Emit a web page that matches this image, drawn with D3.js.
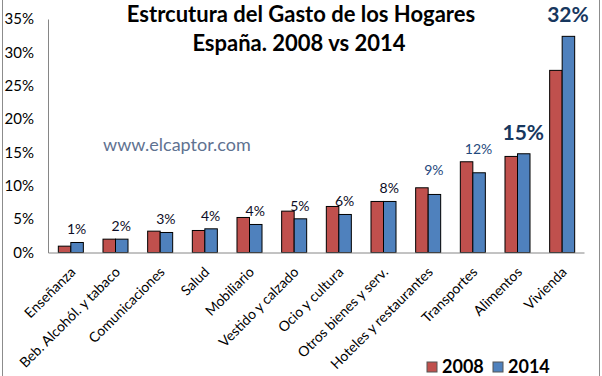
<!DOCTYPE html>
<html>
<head>
<meta charset="utf-8">
<script src="https://cdn.jsdelivr.net/npm/d3@7"></script>
<style>
  body { margin: 0; background: #fff; }
  text { font-family: "Lato", "Open Sans", sans-serif; }
</style>
</head>
<body>
<div id="chart"></div>
<script>
// Estructura del gasto de los hogares, 2008 vs 2014

const categories = ["Enseñanza", "Beb. Alcohól. y tabaco", "Comunicaciones", "Salud", "Mobiliario",
  "Vestido y calzado", "Ocio y cultura", "Otros bienes y serv.", "Hoteles y restaurantes",
  "Transportes", "Alimentos", "Vivienda"];
const values2008 = [0.95, 2.0, 3.2, 3.3, 5.25, 6.2, 6.9, 7.65, 9.7, 13.6, 14.4, 27.3];
const values2014 = [1.5, 2.0, 3.0, 3.55, 4.2, 5.05, 5.7, 7.65, 8.7, 11.95, 14.8, 32.4];
const labels2014 = ["1%", "2%", "3%", "4%", "4%", "5%", "6%", "8%", "9%", "12%", "15%", "32%"];
const yTicks = [0, 5, 10, 15, 20, 25, 30, 35];
const series = ["2008", "2014"];

const width = 602, height = 376,
    margin = ({ top: 19, right: 18, bottom: 124, left: 48 });

const colors = { "2008": "#C0504D", "2014": "#4F81BD" };

const svg = d3.select("#chart")
    .append("svg")
    .attr("width", width)
    .attr("height", height);

// outer frame
svg.append("rect")
    .attr("x", 2.5).attr("y", -1)
    .attr("width", 597).attr("height", height + 2)
    .attr("fill", "none")
    .attr("stroke", "#8c8c8c");

const x = d3.scaleBand()
    .domain(categories)
    .range([margin.left, width - margin.right])
    .paddingInner(0.44)
    .paddingOuter(0.22);

const xs = d3.scaleBand()
    .domain(series)
    .range([0, x.bandwidth()]);

const y = d3.scaleLinear()
    .domain([0, 35])
    .range([height - margin.bottom + 0.5, margin.top]);

// y axis
const yAxis = svg.append("g")
    .attr("transform", `translate(${margin.left},0)`)
    .call(d3.axisLeft(y).tickValues(yTicks).tickFormat(d => d + "%").tickSize(0).tickPadding(14));
yAxis.select(".domain").attr("stroke", "#868686");
yAxis.selectAll("text").attr("font-size", 15).attr("fill", "#000")
    .style("font-family", "Lato, sans-serif");

// bars
const data = categories.map((c, i) => ({ cat: c, "2008": values2008[i], "2014": values2014[i] }));

const groups = svg.append("g")
  .selectAll("g")
  .data(data)
  .join("g")
    .attr("transform", d => `translate(${x(d.cat)},0)`);

groups.selectAll("rect")
  .data(d => series.map(s => ({ key: s, value: d[s] })))
  .join("rect")
    .attr("x", d => xs(d.key) + 0.5)
    .attr("y", d => y(d.value))
    .attr("width", xs.bandwidth())
    .attr("height", d => y(0) - y(d.value))
    .attr("fill", d => colors[d.key])
    .attr("stroke", "#000")
    .attr("stroke-width", 1);

// x axis
const xAxis = svg.append("g")
    .attr("transform", `translate(0,${y(0)})`)
    .call(d3.axisBottom(x).tickSize(0).tickFormat(""));
xAxis.select(".domain").attr("stroke", "#868686");

svg.append("g")
  .selectAll("text")
  .data(categories)
  .join("text")
    .attr("transform", d => `translate(${x(d) + x.bandwidth() / 2 + 6},273) rotate(-45)`)
    .attr("text-anchor", "end")
    .attr("font-size", 14)
    .attr("fill", "#000")
    .text(d => d);

// value labels above the 2014 bars
svg.append("g")
  .selectAll("text")
  .data(data)
  .join("text")
    .attr("x", d => x(d.cat) + xs("2014") + xs.bandwidth() / 2)
    .attr("y", d => y(d["2014"]) - (d["2014"] >= 14 ? 14 : d["2014"] >= 8.5 ? 19 : 8))
    .attr("text-anchor", "middle")
    .attr("font-size", d => d["2014"] >= 14 ? 21 : 14)
    .attr("font-weight", d => d["2014"] >= 14 ? "bold" : "normal")
    .attr("fill", d => d["2014"] >= 14 ? "#17375E" : d["2014"] >= 8.5 ? "#1F497D" : "#0d0d26")
    .text((d, i) => labels2014[i]);

// title
svg.append("text")
    .attr("x", 301).attr("y", 22)
    .attr("text-anchor", "middle")
    .attr("font-size", 22).attr("font-weight", "bold")
    .text("Estrcutura del Gasto de los Hogares");
svg.append("text")
    .attr("x", 299).attr("y", 51)
    .attr("text-anchor", "middle")
    .attr("font-size", 22).attr("font-weight", "bold")
    .text("España. 2008 vs 2014");

// watermark
svg.append("text")
    .attr("x", 103).attr("y", 151)
    .attr("font-size", 18)
    .attr("fill", "#5f7291")
    .text("www.elcaptor.com");

// legend
const legend = svg.append("g")
  .selectAll("g")
  .data(series)
  .join("g")
    .attr("transform", (d, i) => `translate(${427 + i * 66},362)`);
legend.append("rect")
    .attr("width", 10).attr("height", 10)
    .attr("fill", d => colors[d])
    .attr("stroke", "#555");
legend.append("text")
    .attr("x", 15).attr("y", 11)
    .attr("font-size", 18).attr("font-weight", "bold")
    .text(d => d);
</script>
</body>
</html>
